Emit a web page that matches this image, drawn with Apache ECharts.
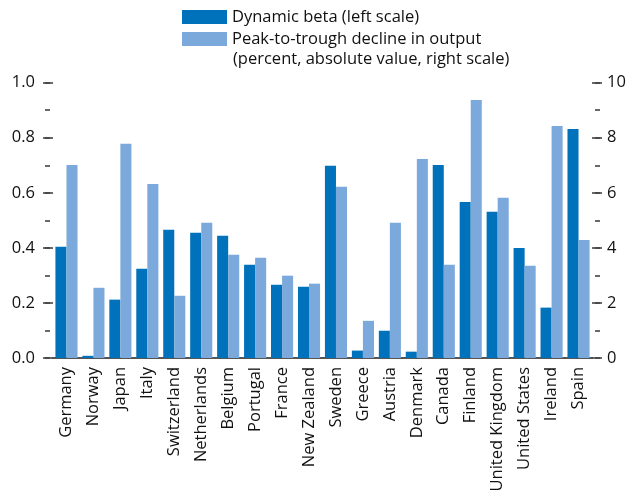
<!DOCTYPE html>
<html><head><meta charset="utf-8">
<script src="https://cdn.jsdelivr.net/npm/echarts@6/dist/echarts.min.js"></script>
<style>html,body{margin:0;padding:0;background:#fff}#c{width:630px;height:502px}</style>
</head><body><div id="c"></div>
<script>
const categories = ["Germany","Norway","Japan","Italy","Switzerland","Netherlands","Belgium","Portugal","France","New Zealand","Sweden","Greece","Austria","Denmark","Canada","Finland","United Kingdom","United States","Ireland","Spain"];
const dynamicBeta = [0.404,0.008,0.212,0.324,0.466,0.455,0.444,0.339,0.266,0.259,0.698,0.027,0.099,0.023,0.701,0.567,0.531,0.400,0.183,0.832];
const outputDecline = [7.01,2.55,7.78,6.32,2.26,4.91,3.75,3.64,2.99,2.70,6.22,1.35,4.91,7.23,3.39,9.37,5.82,3.35,8.43,4.29];
const leftTicks = [0,0.2,0.4,0.6,0.8,1.0];
const rightTicks = [0,2,4,6,8,10];
const seriesNames = ["Dynamic beta (left scale)","Peak-to-trough decline in output"];
const legendExtra = "(percent, absolute value, right scale)";

const FONT = "Open Sans";
const FS = 16.5;
const DARK = "#0072bc", LIGHT = "#7ba9db", TICK = "#444";
const chart = echarts.init(document.getElementById('c'));
const tickAxis = (pos, max, interval, len, offset, showLabel, margin, fmt) => ({
  type:'value', position:pos, min:0, max:max, interval:interval, offset:offset,
  axisLine:{show:false}, splitLine:{show:false},
  axisTick:{show:true, length:len, lineStyle:{color:TICK, width:1.6}},
  axisLabel:{show:showLabel, margin:margin, fontFamily:FONT, fontSize:FS, color:'#111', formatter:fmt}
});
chart.setOption({
  animation:false,
  textStyle:{fontFamily:FONT},
  grid:{left:53, right:38, top:82.7, bottom:144, containLabel:false},
  legend:{
    orient:'vertical', left:182, top:6, padding:0, itemGap:0,
    itemWidth:45, itemHeight:14, icon:'rect',
    textStyle:{fontFamily:FONT, fontSize:FS, color:'#111', lineHeight:22},
    data:seriesNames
  },
  graphic:[{type:'text', left:233, top:51, style:{text:legendExtra, font:FS+'px "'+FONT+'"', fill:'#111'}}],
  xAxis:{
    type:'category', data:categories,
    axisLine:{show:true, lineStyle:{color:'#555', width:2}},
    axisTick:{show:false},
    axisLabel:{rotate:90, interval:0, margin:9, fontFamily:FONT, fontSize:FS, color:'#111'}
  },
  yAxis:[
    tickAxis('left', leftTicks[leftTicks.length-1], leftTicks[1]-leftTicks[0], 10, 0, true, 18, v=>v.toFixed(1)),
    tickAxis('right', rightTicks[rightTicks.length-1], rightTicks[1]-rightTicks[0], 10, 0, true, 15, v=>String(v)),
    tickAxis('left', 1, 0.1, 5, 3, false, 8),
    tickAxis('right', 10, 1, 5, 3, false, 8)
  ],
  series:[
    {name:seriesNames[0], type:'bar', yAxisIndex:0, data:dynamicBeta, itemStyle:{color:DARK}, barGap:'0%', barCategoryGap:'18%'},
    {name:seriesNames[1], type:'bar', yAxisIndex:1, data:outputDecline, itemStyle:{color:LIGHT}, barGap:'0%', barCategoryGap:'18%'}
  ]
});
</script></body></html>
